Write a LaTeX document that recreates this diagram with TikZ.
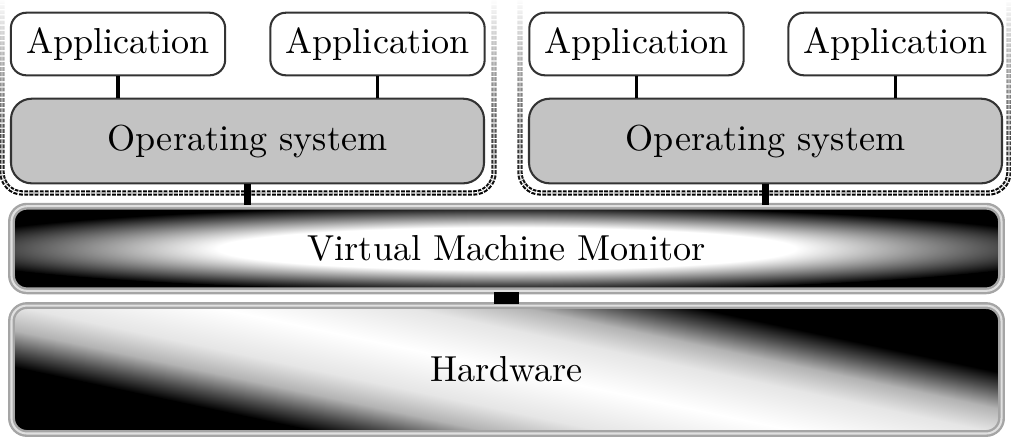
\documentclass[tikz,border=0pt]{standalone}
\usetikzlibrary{shapes, arrows.meta, positioning, calc, fadings, backgrounds}
\definecolor{osgray}{RGB}{195, 195, 195}
\definecolor{rimgray}{RGB}{165, 165, 165}
\pgfdeclareradialshading{vmmglow}{\pgfpoint{0bp}{0bp}}{color(0bp)=(white); color(12.5bp)=(white); color(25bp)=(black); color(50bp)=(black)}
\pgfdeclareverticalshading{hwband}{100bp}{color(0bp)=(black); color(25bp)=(black); color(29bp)=(black!70); color(34bp)=(black!30); color(40bp)=(black!10); color(50bp)=(white); color(60bp)=(black!10); color(66bp)=(black!30); color(71bp)=(black!70); color(75bp)=(black); color(100bp)=(black)}

\begin{document}
\begin{tikzpicture}[x=0.2907pt, y=-0.2907pt,
  font=\fontsize{10.5}{12}\selectfont,
  appbox/.style={draw=black!80, line width=0.6pt, rounded corners=4.5pt, fill=white,
    minimum width=62.3pt, minimum height=18.2pt, inner sep=0pt},
  osbox/.style={draw=black!80, line width=0.6pt, rounded corners=6pt, fill=osgray,
    minimum width=137.5pt, minimum height=24.6pt, inner sep=0pt},
  layerbox/.style={draw=rimgray, double=black!12, double distance=0.6pt, line width=0.7pt,
    rounded corners=4.5pt, minimum width=287.8pt, inner sep=0pt},
  guestframe/.style={draw=black, line width=0.6pt, double=white, double distance=0.35pt,
    dash pattern=on 1.1pt off 0.4pt, rounded corners=6pt, path fading=north},
  link/.style={line width=0.8pt}
]
  \useasboundingbox (0,0) rectangle (1011,445);

  % guest frames
  \draw[guestframe] (2,0) -- (2,193) -- (494,193) -- (494,0);
  \draw[guestframe] (520,0) -- (520,193) -- (1009,193) -- (1009,0);

  % guests
  \node[appbox] (app1) at (118,44) {Application};
  \node[appbox] (app2) at (377.5,44) {Application};
  \node[appbox] (app3) at (636.5,44) {Application};
  \node[appbox] (app4) at (895.5,44) {Application};
  \node[osbox] (os1) at (247.5,141) {Operating system};
  \node[osbox] (os2) at (765.5,141) {Operating system};

  % layers
  \node[layerbox, minimum height=24.6pt, fill=black,
    path picture={\shade[shading=vmmglow] (path picture bounding box.center)
      ellipse [x radius=168pt, y radius=12.2pt];}]
    (vmm) at (506.5,248.5) {Virtual Machine Monitor};
  \node[layerbox, minimum height=37.2pt] (hw) at (506.5,369.5) {Hardware};
  \begin{scope}[on background layer]
    \fill[rounded corners=4.5pt] (hw.south west) rectangle (hw.north east);
    \clip[rounded corners=4.5pt] (hw.south west) rectangle (hw.north east);
    \shade[transform canvas={rotate around={-12:(hw.center)}}, shading=hwband]
      ($(hw.center)+(-620,-100)$) rectangle ($(hw.center)+(620,100)$);
  \end{scope}

  % links
  \draw[line width=1.4pt] (app1.south) -- (app1.south |- os1.north);
  \draw[link] (app2.south) -- (app2.south |- os1.north);
  \draw[link] (app3.south) -- (app3.south |- os2.north);
  \draw[link] (app4.south) -- (app4.south |- os2.north);
  \draw[line width=2pt] (os1.south) -- (os1.south |- vmm.north);
  \draw[line width=2pt] (os2.south) -- (os2.south |- vmm.north);
  \draw[line width=7.3pt] (vmm.south) -- (hw.north);
\end{tikzpicture}
\end{document}
